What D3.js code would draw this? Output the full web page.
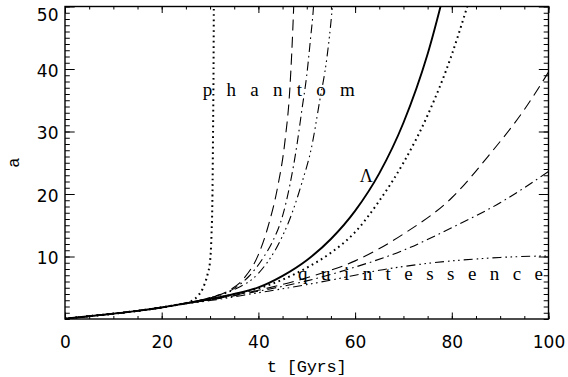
<!DOCTYPE html>
<html>
<head>
<meta charset="utf-8">
<script src="https://cdn.jsdelivr.net/npm/d3@7"></script>
<style>
  body { margin: 0; background: #fff; }
  svg { display: block; background: #fff; }
</style>
</head>
<body>
<svg id="chart" width="568" height="377"></svg>
<script>
// scale factor a(t), t in Gyrs for each model
const lambdaT = [0, 5, 10, 15, 20, 25, 30, 35, 40, 45, 50, 55, 60, 65, 70, 75, 80];
const lambdaA = [0.05, 0.45, 0.85, 1.3, 1.85, 2.5, 3.2, 4.0, 5.05, 6.9, 9.4, 12.8, 17.3, 23.3, 31.4, 42.4, 57.2];

// phantom models (big rip)
const phDotT = [0, 5, 10, 15, 20, 24, 26, 27.5, 28.5, 29.5, 30, 30.3, 30.5, 30.62, 30.72, 30.78, 30.84];
const phDotA = [0.05, 0.45, 0.85, 1.3, 1.85, 2.4, 2.8, 3.7, 4.9, 7.2, 9.2, 13.5, 20, 30, 40, 50, 60];
const phDashT = [0, 5, 10, 15, 20, 25, 30, 34, 37, 40, 42, 44, 45.5, 46.5, 47.3, 47.8];
const phDashA = [0.05, 0.45, 0.85, 1.3, 1.85, 2.55, 3.45, 4.6, 6.5, 10.3, 14.8, 21.2, 28.5, 36.8, 50, 62];
const phDashDotT = [0, 5, 10, 15, 20, 25, 30, 35, 38, 41, 43, 45, 46.5, 48, 49, 50, 50.8, 51.4, 51.9];
const phDashDotA = [0.05, 0.45, 0.85, 1.3, 1.85, 2.55, 3.4, 4.9, 6.8, 9.8, 12.5, 16.5, 21.4, 28, 33.5, 39, 45, 50, 57];
const phDash3DotT = [0, 5, 10, 15, 20, 25, 30, 35, 40, 44.3, 46.5, 49, 51, 52.7, 54.1, 55.3, 56];
const phDash3DotA = [0.05, 0.45, 0.85, 1.3, 1.85, 2.55, 3.35, 4.7, 7.3, 12.2, 16, 21.8, 27.5, 35, 41.4, 50, 57];

// quintessence models
const qDotT = [0, 5, 10, 15, 20, 25, 30, 35, 40, 45, 50, 55, 60, 65, 70, 75, 80, 83, 86];
const qDotA = [0.05, 0.45, 0.85, 1.3, 1.85, 2.5, 3.15, 3.95, 4.9, 6.3, 8.2, 10.6, 13.9, 18.9, 25.0, 32.6, 42.3, 49.5, 57];
const qDashT = [0, 5, 10, 15, 20, 25, 30, 40, 50, 60, 70, 80, 88, 95, 100];
const qDashA = [0.05, 0.45, 0.85, 1.3, 1.85, 2.5, 3.1, 4.6, 6.6, 9.3, 13.6, 19.4, 26.5, 33.5, 39.5];
const qDashDotT = [0, 5, 10, 15, 20, 25, 30, 40, 50, 60, 70, 80, 90, 100];
const qDashDotA = [0.05, 0.45, 0.85, 1.3, 1.85, 2.5, 3.05, 4.45, 6.1, 8.3, 11.0, 14.6, 18.6, 23.6];
const qDash3DotT = [0, 5, 10, 15, 20, 25, 30, 40, 50, 60, 65, 70, 80, 85, 90, 100];
const qDash3DotA = [0.05, 0.45, 0.85, 1.3, 1.85, 2.45, 2.95, 4.2, 5.5, 7.0, 7.8, 8.4, 9.3, 9.6, 9.85, 10.1];

const xTicks = [0, 20, 40, 60, 80, 100];
const yTicks = [10, 20, 30, 40, 50];

const svg = d3.select("#chart"),
    margin = { top: 6.5, right: 19.5, bottom: 58, left: 65 },
    width = +svg.attr("width") - margin.left - margin.right,
    height = +svg.attr("height") - margin.top - margin.bottom;

const g = svg.append("g")
    .attr("transform", "translate(" + margin.left + "," + margin.top + ")");

const xScale = d3.scaleLinear().domain([0, 100]).range([0, width]);
const yScale = d3.scaleLinear().domain([0, 50]).range([height, 0]);

// line styles, IDL-like
const DOT = "1.7,3.6", DASH = "11,6", DASHDOT = "9,4,1.6,4", DASH3DOT = "9,4,1.6,3.5,1.6,3.5,1.6,4";

const models = [
    { t: lambdaT, a: lambdaA, dash: null, w: 1.9 },
    { t: phDotT, a: phDotA, dash: DOT, w: 2 },
    { t: phDashT, a: phDashA, dash: DASH, w: 1.1 },
    { t: phDashDotT, a: phDashDotA, dash: DASHDOT, w: 1.1 },
    { t: phDash3DotT, a: phDash3DotA, dash: DASH3DOT, w: 1.1 },
    { t: qDotT, a: qDotA, dash: DOT, w: 2 },
    { t: qDashT, a: qDashA, dash: DASH, w: 1.1 },
    { t: qDashDotT, a: qDashDotA, dash: DASHDOT, w: 1.1 },
    { t: qDash3DotT, a: qDash3DotA, dash: DASH3DOT, w: 1.1 }
];

g.append("clipPath").attr("id", "plot-clip")
    .append("rect").attr("width", width).attr("height", height);

const line = d3.line()
    .x(d => xScale(d[0]))
    .y(d => yScale(d[1]))
    .curve(d3.curveMonotoneX);

g.append("g").attr("clip-path", "url(#plot-clip)")
    .selectAll("path")
    .data(models)
    .enter()
    .append("path")
    .attr("d", m => line(d3.zip(m.t, m.a)))
    .attr("fill", "none")
    .attr("stroke", "#000")
    .attr("stroke-width", m => m.w)
    .attr("stroke-dasharray", m => m.dash);

// axes: ticks point inward on all four sides
function styleAxis(sel) {
    sel.select(".domain").remove();
    sel.selectAll(".tick line").attr("stroke", "#000").attr("stroke-width", 1);
    sel.selectAll("text")
        .attr("fill", "#000")
        .style("font-family", "'DejaVu Sans', sans-serif")
        .style("font-size", "17px");
}

const xMinor = d3.range(0, 101, 5), yMinor = d3.range(0, 51, 1);

g.append("g").attr("transform", "translate(0," + height + ")")
    .call(d3.axisBottom(xScale).tickValues(xMinor).tickSize(-3).tickFormat(""))
    .call(styleAxis);
g.append("g").attr("transform", "translate(0," + height + ")")
    .call(d3.axisBottom(xScale).tickValues(xTicks).tickSize(-6.5).tickPadding(16.5).tickFormat(d3.format("d")))
    .call(styleAxis);
g.append("g")
    .call(d3.axisTop(xScale).tickValues(xMinor).tickSize(-3).tickFormat(""))
    .call(styleAxis);
g.append("g")
    .call(d3.axisTop(xScale).tickValues(xTicks).tickSize(-6.5).tickFormat(""))
    .call(styleAxis);

g.append("g")
    .call(d3.axisLeft(yScale).tickValues(yMinor).tickSize(-4.8).tickFormat(""))
    .call(styleAxis);
const yAxis = g.append("g")
    .call(d3.axisLeft(yScale).tickValues(yTicks).tickSize(-9.7).tickPadding(6.5).tickFormat(d3.format("d")))
    .call(styleAxis);
yAxis.selectAll("text").attr("dy", "0.44em");
// the top label sits lower, inside the frame, as in the original
yAxis.selectAll("text").filter(d => d === 50).attr("dy", "0.8em");

g.append("g").attr("transform", "translate(" + width + ",0)")
    .call(d3.axisRight(yScale).tickValues(yMinor).tickSize(-4.8).tickFormat(""))
    .call(styleAxis);
g.append("g").attr("transform", "translate(" + width + ",0)")
    .call(d3.axisRight(yScale).tickValues(yTicks).tickSize(-9.7).tickFormat(""))
    .call(styleAxis);

g.append("rect")
    .attr("width", width)
    .attr("height", height)
    .attr("fill", "none")
    .attr("stroke", "#000")
    .attr("stroke-width", 1.4);

// axis titles
g.append("text")
    .attr("x", width / 2)
    .attr("y", height + 52.5)
    .attr("text-anchor", "middle")
    .attr("textLength", 80)
    .style("font-family", "'Liberation Mono', monospace")
    .style("font-size", "17px")
    .text("t [Gyrs]");

svg.append("text")
    .attr("transform", "translate(18.5," + (margin.top + height / 2) + ") rotate(-90)")
    .attr("text-anchor", "middle")
    .style("font-family", "'Liberation Mono', monospace")
    .style("font-size", "17px")
    .text("a");

// annotations
const labelFont = "'Liberation Serif', serif";
g.append("text")
    .attr("x", xScale(28.5))
    .attr("y", yScale(35.7))
    .attr("textLength", 152)
    .attr("lengthAdjust", "spacing")
    .style("font-family", labelFont)
    .style("font-size", "19px")
    .text("p h a n t o m");

g.append("text")
    .attr("x", xScale(48.2))
    .attr("y", yScale(6.2))
    .attr("textLength", 245)
    .attr("lengthAdjust", "spacing")
    .style("font-family", labelFont)
    .style("font-size", "19px")
    .text("q u i n t e s s e n c e");

g.append("text")
    .attr("x", xScale(62.3))
    .attr("y", yScale(21.9))
    .attr("text-anchor", "middle")
    .style("font-family", labelFont)
    .style("font-size", "18px")
    .text("Λ");
</script>
</body>
</html>
